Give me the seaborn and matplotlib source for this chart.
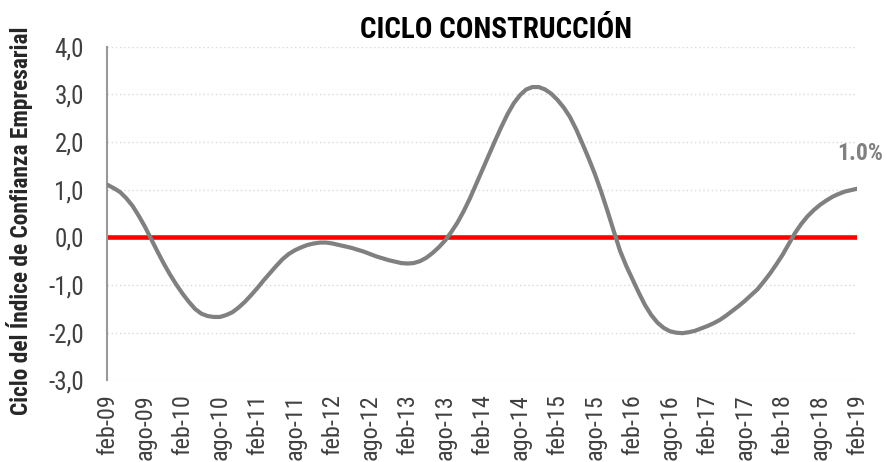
import numpy as np
import pandas as pd
import seaborn as sns
import matplotlib.pyplot as plt
from matplotlib import font_manager

# Business confidence cycle, construction sector (monthly readings, feb-09 .. feb-19)
months = list(range(0, 121))
ciclo = [
    1.10, 1.03, 0.95, 0.82, 0.66, 0.45, 0.22, -0.04, -0.30, -0.55,
    -0.78, -0.99, -1.18, -1.35, -1.50, -1.60, -1.65, -1.67, -1.67, -1.63,
    -1.57, -1.47, -1.35, -1.21, -1.06, -0.90, -0.75, -0.60, -0.46, -0.35,
    -0.27, -0.21, -0.16, -0.13, -0.11, -0.11, -0.13, -0.16, -0.19, -0.22,
    -0.26, -0.30, -0.35, -0.40, -0.44, -0.48, -0.51, -0.54, -0.55, -0.54,
    -0.50, -0.43, -0.33, -0.21, -0.07, 0.11, 0.31, 0.55, 0.82, 1.12,
    1.42, 1.72, 2.02, 2.31, 2.58, 2.81, 2.98, 3.10, 3.15, 3.15,
    3.10, 3.01, 2.88, 2.72, 2.52, 2.26, 1.96, 1.65, 1.32, 0.95,
    0.55, 0.13, -0.28, -0.60, -0.88, -1.16, -1.42, -1.63, -1.79, -1.90,
    -1.97, -2.00, -2.01, -1.99, -1.96, -1.91, -1.86, -1.80, -1.73, -1.64,
    -1.54, -1.44, -1.33, -1.21, -1.09, -0.93, -0.76, -0.57, -0.37, -0.14,
    0.09, 0.28, 0.44, 0.57, 0.68, 0.77, 0.85, 0.91, 0.96, 0.99,
    1.02,
]
tick_labels = [
    "feb-09", "ago-09", "feb-10", "ago-10", "feb-11", "ago-11", "feb-12",
    "ago-12", "feb-13", "ago-13", "feb-14", "ago-14", "feb-15", "ago-15",
    "feb-16", "ago-16", "feb-17", "ago-17", "feb-18", "ago-18", "feb-19",
]
y_ticks = [-3, -2, -1, 0, 1, 2, 3, 4]
last_label = "1.0%"

df = pd.DataFrame({"mes": months, "ciclo": ciclo})

sns.set_theme(style="white")

# pick a narrow sans family that ships both regular and bold faces
weights = {}
for f in font_manager.fontManager.ttflist:
    weights.setdefault(f.name, set()).add(f.weight)
candidates = ["Liberation Sans Narrow", "Arial Narrow", "Roboto Condensed",
              "PT Sans Narrow", "Open Sans Condensed", "Asap Condensed",
              "Barlow Semi Condensed", "Archivo Narrow"]
narrow = "Liberation Sans"
for name in candidates:
    w = weights.get(name, set())
    if 400 in w and 700 in w:
        narrow = name
        break
plt.rcParams["font.family"] = [narrow, "DejaVu Sans"]

fig = plt.figure(figsize=(8.87, 4.62), dpi=100)
ax = fig.add_axes([107.5 / 887, 1 - 380.4 / 462, 750 / 887, 333.9 / 462])

# zero reference line underneath the cycle
ax.axhline(0, color="#ff0000", lw=3.3, zorder=2)
sns.lineplot(data=df, x="mes", y="ciclo", ax=ax, color="#808080", lw=3.0,
             zorder=3, solid_joinstyle="round", solid_capstyle="round")

ax.set_xlim(0, 120)
ax.set_ylim(-3, 4)
ax.set_yticks(y_ticks)
ax.set_yticklabels([f"{v:.1f}".replace(".", ",") for v in y_ticks])
ax.set_xticks(list(range(0, 121, 6)))
ax.set_xticklabels(tick_labels, rotation=90, va="top", ha="center")

for v in y_ticks:
    ax.axhline(v, color="#d9d9d9", lw=1.0, ls=(0, (1, 2)), zorder=1)

for side in ["top", "right", "bottom"]:
    ax.spines[side].set_visible(False)
ax.spines["left"].set_color("#999999")
ax.spines["left"].set_linewidth(1.5)

ax.tick_params(axis="y", length=0, pad=17, labelsize=18, labelcolor="#404040")
ax.tick_params(axis="x", length=0, pad=10, labelsize=17.5, labelcolor="#404040")

ax.set_xlabel("")
ax.set_ylabel("Ciclo del Índice de Confianza Empresarial", fontsize=16.8,
              fontweight="bold", color="#262626")
ax.yaxis.set_label_coords(-0.0993, 0.477)

fig.text(496.5 / 887, 1 - 38 / 462, "CICLO CONSTRUCCIÓN", ha="center",
         va="baseline", fontsize=21, fontweight="bold", color="#000000")

ax.annotate(last_label, xy=(months[-1], ciclo[-1]), xytext=(2, 17),
            textcoords="offset points", ha="center", va="bottom",
            fontsize=17, fontweight="bold", color="#808080", annotation_clip=False)

fig.savefig("out.png", dpi=100)
